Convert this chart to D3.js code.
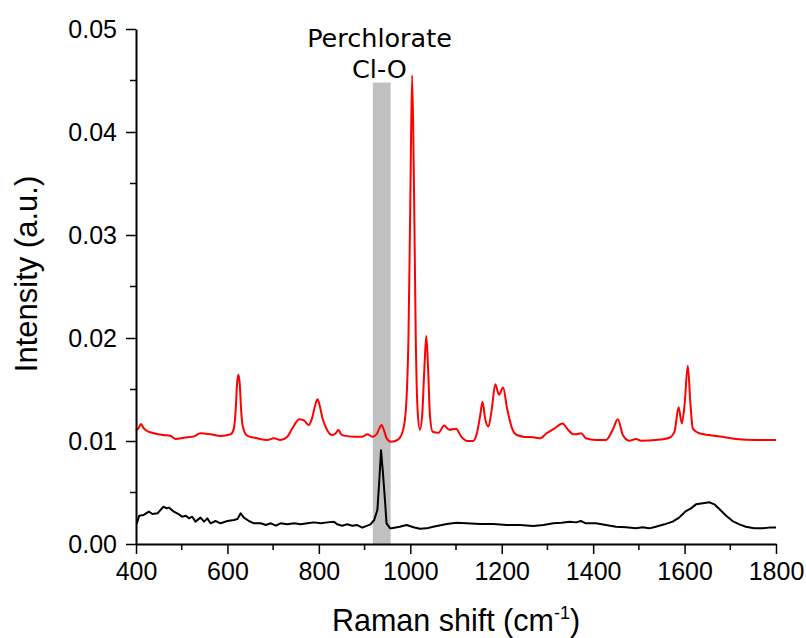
<!DOCTYPE html>
<html>
<head>
<meta charset="utf-8">
<script src="https://cdn.jsdelivr.net/npm/d3@7"></script>
<style>
  html, body { margin: 0; padding: 0; background: #fff; }
  svg { display: block; }
</style>
</head>
<body>
<svg id="chart" width="806" height="638"></svg>
<script>
// ---------- data ----------
const xTicks = [400, 600, 800, 1000, 1200, 1400, 1600, 1800];
const yTicks = [0.00, 0.01, 0.02, 0.03, 0.04, 0.05];
const xDomain = [400, 1800];
const yDomain = [0, 0.05];

const bandRange = [918, 957];
const bandTop = 0.0448;
const bandLabel = ["Perchlorate", "Cl-O"];

const redShift = [400, 406, 411, 416, 421, 439, 461, 476, 487, 505, 527, 541, 563, 585, 607, 614, 618, 621, 624, 627, 630, 633, 643, 665, 687, 702, 716, 731, 742, 750, 757, 767, 778, 785, 791, 797, 802, 808, 818, 829, 836, 843, 848, 855, 877, 895, 906, 917, 927, 932, 937, 942, 948, 958, 967, 977, 985, 991, 996, 1000, 1004, 1008, 1012, 1016, 1021, 1026, 1031, 1035, 1039, 1043, 1049, 1062, 1074, 1085, 1100, 1112, 1125, 1137, 1146, 1153, 1158, 1164, 1171, 1178, 1186, 1194, 1203, 1212, 1222, 1233, 1250, 1269, 1284, 1298, 1315, 1333, 1345, 1357, 1363, 1374, 1384, 1406, 1428, 1443, 1454, 1465, 1479, 1494, 1505, 1537, 1567, 1578, 1587, 1594, 1600, 1607, 1613, 1618, 1632, 1654, 1683, 1712, 1756, 1800];
const redIntensity = [0.0110, 0.0113, 0.01165, 0.0113, 0.01107, 0.01075, 0.01058, 0.01049, 0.0102, 0.01032, 0.01045, 0.01075, 0.01065, 0.01049, 0.01065, 0.0112, 0.0130, 0.0155, 0.01645, 0.0155, 0.0130, 0.01155, 0.01052, 0.01026, 0.0101, 0.01026, 0.0101, 0.01042, 0.01123, 0.0118, 0.0121, 0.0120, 0.01155, 0.0122, 0.0133, 0.01405, 0.0134, 0.0122, 0.01107, 0.01058, 0.0107, 0.01107, 0.0107, 0.01052, 0.01042, 0.01042, 0.01065, 0.01042, 0.0107, 0.0112, 0.01155, 0.0111, 0.0103, 0.00993, 0.0100, 0.0103, 0.0112, 0.0135, 0.0200, 0.0330, 0.0455, 0.0350, 0.0200, 0.0130, 0.0111, 0.0125, 0.0172, 0.0202, 0.0170, 0.0125, 0.0109, 0.0108, 0.0115, 0.0111, 0.0112, 0.0104, 0.0100, 0.0100, 0.0108, 0.0125, 0.0138, 0.0121, 0.0114, 0.0130, 0.0155, 0.0145, 0.0152, 0.0131, 0.0113, 0.01058, 0.0104, 0.01036, 0.01026, 0.01075, 0.0112, 0.0117, 0.0111, 0.01065, 0.01065, 0.01075, 0.01026, 0.0101, 0.0101, 0.0111, 0.0121, 0.01058, 0.01003, 0.0102, 0.01003, 0.0101, 0.01032, 0.0109, 0.01327, 0.0117, 0.0135, 0.0173, 0.0135, 0.0112, 0.01075, 0.01058, 0.01042, 0.0102, 0.0101, 0.0101];

const blackShift = [400, 402, 407, 417, 428, 436, 447, 460, 467, 472, 483, 494, 501, 509, 516, 523, 530, 541, 549, 556, 563, 574, 585, 600, 614, 622, 629, 636, 647, 658, 673, 684, 695, 706, 716, 731, 746, 760, 775, 789, 804, 819, 833, 840, 851, 862, 873, 884, 895, 906, 913, 921, 928, 932, 936, 940, 945, 948, 956, 959, 977, 992, 1007, 1021, 1036, 1050, 1069, 1080, 1101, 1123, 1152, 1182, 1211, 1240, 1269, 1291, 1313, 1331, 1349, 1363, 1373, 1384, 1406, 1428, 1450, 1472, 1494, 1508, 1523, 1537, 1556, 1574, 1588, 1603, 1614, 1625, 1640, 1654, 1665, 1676, 1691, 1705, 1720, 1734, 1752, 1771, 1785, 1800];
const blackIntensity = [0.0020, 0.00201, 0.00275, 0.00282, 0.00314, 0.00291, 0.00298, 0.00362, 0.00346, 0.00353, 0.00314, 0.00288, 0.00265, 0.00275, 0.00249, 0.00265, 0.00217, 0.00256, 0.00217, 0.00249, 0.00201, 0.00223, 0.00201, 0.00223, 0.00233, 0.00243, 0.00298, 0.00256, 0.00223, 0.00201, 0.00201, 0.00184, 0.00201, 0.00178, 0.00201, 0.00191, 0.00201, 0.00191, 0.00201, 0.0021, 0.00201, 0.0021, 0.00217, 0.00191, 0.00178, 0.00191, 0.00178, 0.00184, 0.00159, 0.00178, 0.00191, 0.00233, 0.0033, 0.0060, 0.0091, 0.0070, 0.0040, 0.0020, 0.00152, 0.00152, 0.00168, 0.00184, 0.00162, 0.00149, 0.00152, 0.00168, 0.00184, 0.00194, 0.00207, 0.00201, 0.00194, 0.00194, 0.00184, 0.00184, 0.00175, 0.00184, 0.00201, 0.00207, 0.00217, 0.0021, 0.00223, 0.00201, 0.00201, 0.00184, 0.00168, 0.00162, 0.00152, 0.00162, 0.00152, 0.00168, 0.00191, 0.00217, 0.00256, 0.0032, 0.00346, 0.00385, 0.00395, 0.00405, 0.00385, 0.0034, 0.00275, 0.00223, 0.00191, 0.00168, 0.00152, 0.00152, 0.00159, 0.00159];

// ---------- layout ----------
const svg = d3.select("#chart");
const mLeft = 136, mRight = 776, mTop = 29, mBottom = 544;

const x = d3.scaleLinear().domain(xDomain).range([mLeft, mRight]);
const y = d3.scaleLinear().domain(yDomain).range([mBottom, mTop]);

const tickFont = "'Liberation Sans', Arial, sans-serif";

// band
svg.append("rect")
  .attr("x", x(bandRange[0]))
  .attr("y", y(bandTop))
  .attr("width", x(bandRange[1]) - x(bandRange[0]))
  .attr("height", y(0) - y(bandTop))
  .attr("fill", "#c0c0c0");

// lines
const redData = redShift.map((s, i) => [s, redIntensity[i]]);
const blackData = blackShift.map((s, i) => [s, blackIntensity[i]]);

const lineSmooth = d3.line().x(d => x(d[0])).y(d => y(d[1])).curve(d3.curveMonotoneX);
const lineRaw = d3.line().x(d => x(d[0])).y(d => y(d[1])).curve(d3.curveLinear);

svg.append("path").datum(blackData)
  .attr("d", lineRaw).attr("fill", "none")
  .attr("stroke", "#000").attr("stroke-width", 2).attr("stroke-linejoin", "round");

svg.append("path").datum(redData)
  .attr("d", lineSmooth).attr("fill", "none")
  .attr("stroke", "#ff0000").attr("stroke-width", 2).attr("stroke-linejoin", "round");

// axes
const xMinor = d3.range(500, 1800, 200);
const yMinor = [0.005, 0.015, 0.025, 0.035, 0.045];

const xAxis = svg.append("g").attr("transform", `translate(0,${mBottom})`)
  .call(d3.axisBottom(x).tickValues(xTicks).tickFormat(d3.format("d")).tickSizeInner(10).tickSizeOuter(0).tickPadding(8));
xAxis.append("g").selectAll("line").data(xMinor).join("line")
  .attr("x1", d => x(d)).attr("x2", d => x(d)).attr("y1", 0).attr("y2", 6)
  .attr("stroke", "#000").attr("stroke-width", 1.5);

const yAxis = svg.append("g").attr("transform", `translate(${mLeft},0)`)
  .call(d3.axisLeft(y).tickValues(yTicks).tickFormat(d3.format(".2f")).tickSizeInner(10).tickSizeOuter(0).tickPadding(9));
yAxis.append("g").selectAll("line").data(yMinor).join("line")
  .attr("y1", d => y(d)).attr("y2", d => y(d)).attr("x1", 0).attr("x2", -6)
  .attr("stroke", "#000").attr("stroke-width", 1.5);

[xAxis, yAxis].forEach(g => {
  g.select(".domain").attr("stroke", "#000").attr("stroke-width", 2);
  g.selectAll(".tick line").attr("stroke", "#000").attr("stroke-width", 1.5);
  g.selectAll(".tick text").attr("font-family", tickFont).attr("font-size", 25).attr("fill", "#000");
});
xAxis.selectAll(".tick text").attr("dy", "0.71em");

// axis titles
const xt = svg.append("text")
  .attr("x", (mLeft + mRight) / 2).attr("y", 631)
  .attr("text-anchor", "middle")
  .attr("font-family", tickFont).attr("font-size", 30.5).attr("fill", "#000");
xt.append("tspan").text("Raman shift (cm");
xt.append("tspan").attr("dy", -12).attr("font-size", 18).text("-1");
xt.append("tspan").attr("dy", 12).text(")");

svg.append("text")
  .attr("transform", "translate(37,274) rotate(-90)")
  .attr("text-anchor", "middle")
  .attr("font-family", tickFont).attr("font-size", 31).attr("fill", "#000")
  .text("Intensity (a.u.)");

// band label
svg.selectAll("text.band").data(bandLabel).join("text")
  .attr("class", "band")
  .attr("x", 379.5)
  .attr("y", (d, i) => 46.7 + i * 31.6)
  .attr("text-anchor", "middle")
  .attr("font-family", "'DejaVu Sans', sans-serif").attr("font-size", 25.5).attr("fill", "#000")
  .text(d => d);
</script>
</body>
</html>
